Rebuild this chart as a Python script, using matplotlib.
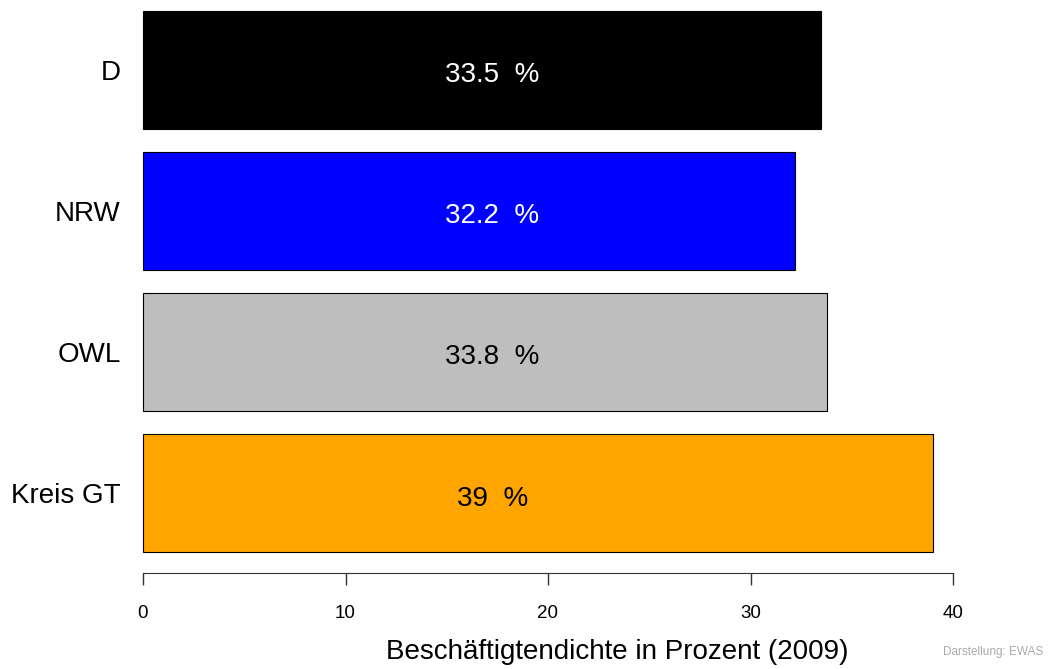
import matplotlib.pyplot as plt

# Daten
regionen = ["Kreis GT", "OWL", "NRW", "D"]
werte = [39, 33.8, 32.2, 33.5]
beschriftung = ["39", "33.8", "32.2", "33.5"]
farben = ["#FFA500", "#BEBEBE", "#0000FF", "#000000"]
textfarben = ["black", "black", "white", "white"]
ticks = [0, 10, 20, 30, 40]

plt.rcParams['font.family'] = ['Liberation Sans', 'DejaVu Sans']

fig = plt.figure(figsize=(10.5, 6.69), dpi=100)
W, H = 1050, 669
# Plotbereich in Pixeln: x 143..953, y 11..552
ax = fig.add_axes([143 / W, 1 - 552 / H, 810 / W, 541 / H])

pos = [0.7 + 1.2 * i for i in range(len(regionen))]
balken = ax.barh(pos, werte, height=1.0, color=farben, edgecolor="black", linewidth=0.8)
for b in balken:
    b.set_clip_on(False)  # Rahmen am Rand nicht abschneiden

for p, lab, tc in zip(pos, beschriftung, textfarben):
    ax.text(17.25, p - 0.105, f"{lab}  %", ha="center", va="baseline", color=tc, fontsize=20)

ax.set_xlim(0, 40)
ax.set_ylim(0.2, 4.8)

for s in ["top", "right", "left"]:
    ax.spines[s].set_visible(False)
ax.spines["bottom"].set_position(("outward", 15))
ax.spines["bottom"].set_bounds(0, 40)
ax.spines["bottom"].set_color("#333333")

ax.set_yticks(pos)
ax.set_yticklabels(regionen)
ax.tick_params(axis="y", length=0, pad=16, labelsize=20)

ax.set_xticks(ticks)
ax.set_xticklabels([str(t) for t in ticks])
ax.tick_params(axis="x", length=8.5, width=1, color="#333333", pad=15, labelsize=13.5)

fig.text(617 / W, 1 - 652 / H, "Beschäftigtendichte in Prozent (2009)",
         ha="center", va="center", fontsize=20)
fig.text(1043 / W, 1 - 652 / H, "Darstellung: EWAS", ha="right", va="center",
         fontsize=8.5, color="#AAAAAA")

fig.savefig("out.png", dpi=100)
